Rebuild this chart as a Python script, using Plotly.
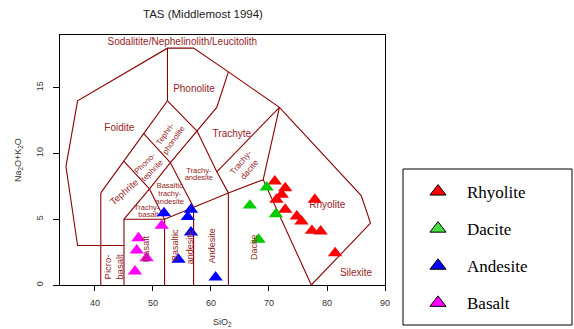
import plotly.graph_objects as go

# ---------------- data ----------------
rhyolite_sio2 = [71.0, 72.8, 72.2, 71.3, 72.8, 74.8, 75.6, 77.4, 78.9, 77.9, 81.4]
rhyolite_alk = [7.88, 7.37, 6.87, 6.49, 5.73, 5.22, 4.84, 4.13, 4.08, 6.49, 2.43]

dacite_sio2 = [69.6, 66.7, 71.2, 68.2]
dacite_alk = [7.42, 6.05, 5.39, 3.45]

andesite_sio2 = [51.9, 56.55, 56.0, 56.55, 54.4, 60.8]
andesite_alk = [5.47, 5.73, 5.17, 4.0, 1.93, 0.58]

basalt_sio2 = [51.5, 47.5, 47.2, 48.9, 46.9]
basalt_alk = [4.51, 3.57, 2.64, 2.05, 1.04]

series_names = ["Rhyolite", "Dacite", "Andesite", "Basalt"]
series_colors = ["#FF0000", "#00CC00", "#0000FF", "#FF00FF"]
legend_colors = ["#FF0000", "#44DD44", "#0000FF", "#FF00FF"]

x_ticks = [40, 50, 60, 70, 80, 90]
y_ticks = [0, 5, 10, 15]

# TAS (Middlemost 1994) field boundaries (SiO2, Na2O+K2O)
boundaries = [
    [(45, 3), (37, 3), (35, 9), (37, 14), (52.5, 18), (57, 18), (63, 16.2),
     (71.8, 13.5), (85.9, 6.8), (87.5, 4.7), (77.3, 0)],
    [(41, 0), (41, 7)],
    [(41, 7), (45, 9.4), (48.4, 11.5), (52.5, 14)],
    [(52.5, 14), (52.5, 18)],
    [(52.5, 14), (57.6, 11.7)],
    [(53, 9.3), (57.6, 11.7), (61, 13.5), (63, 16.2)],
    [(48.4, 11.5), (53, 9.3)],
    [(45, 9.4), (49.4, 7.3)],
    [(45, 5), (49.4, 7.3), (53, 9.3)],
    [(49.4, 7.3), (52, 5)],
    [(53, 9.3), (57, 5.9)],
    [(57.6, 11.7), (61, 8.6), (63, 7)],
    [(61, 8.6), (71.8, 13.5)],
    [(71.8, 13.5), (69, 8), (77.3, 0)],
    [(63, 7), (69, 8)],
    [(45, 0), (45, 5), (52, 5), (57, 5.9), (63, 7)],
    [(52, 0), (52, 5)],
    [(57, 0), (57, 5.9)],
    [(63, 0), (63, 7)],
]

# horizontal field labels (text, SiO2, alkali, size)
flat_labels = [
    ("Sodalitite/Nephelinolith/Leucitolith", 55.06, 18.44, 10),
    ("Foidite", 44.2, 11.9, 10),
    ("Phonolite", 57.07, 14.87, 10),
    ("Trachyte", 63.6, 11.47, 10),
    ("Rhyolite", 80.05, 6.03, 10),
    ("Silexite", 85.0, 0.89, 10),
    ("Trachy-", 57.9, 8.69, 7.5),
    ("andesite", 57.9, 8.1, 7.5),
    ("Basaltic", 52.9, 7.55, 7.5),
    ("trachy-", 52.9, 6.91, 7.5),
    ("andesite", 52.9, 6.33, 7.5),
    ("Trachy-", 48.9, 5.87, 7.5),
    ("basalt", 49.2, 5.32, 7.5),
]

# rotated field labels (text, SiO2, alkali, angle, size)
rot_labels = [
    ("Tephrite", 45.05, 7.09, -41, 9.5),
    ("Phono-<br>tephrite", 49.3, 9.0, -45, 8),
    ("Tephri-<br>phonolite", 52.9, 11.27, -55, 8),
    ("Trachy-<br>dacite", 65.86, 9.12, -50, 8.5),
    ("Picro-", 42.19, 1.39, -90, 9.5),
    ("basalt", 44.31, 1.39, -90, 9.5),
    ("Basalt", 48.62, 2.79, -90, 9.5),
    ("Basaltic", 53.79, 3.04, -90, 9),
    ("andesite", 56.38, 2.86, -90, 9),
    ("Andesite", 60.1, 2.99, -90, 9),
    ("Dacite", 67.3, 2.91, -90, 9),
]

# ---------------- layout geometry ----------------
W, H = 574, 329
ML, MR, MT, MB = 60, 189, 35, 44
PW = W - ML - MR
PH = H - MT - MB


def pxx(px):
    return (px - ML) / PW


def pxy(py):
    return (H - MB - py) / PH


LINE_COL = "#8B0000"
TEXT_COL = "#962424"
SANS = "Liberation Sans, Arial, sans-serif"

fig = go.Figure()

bx, by = [], []
for poly in boundaries:
    for (sx, sy) in poly:
        bx.append(sx)
        by.append(sy)
    bx.append(None)
    by.append(None)
fig.add_trace(go.Scatter(x=bx, y=by, mode="lines",
                         line=dict(color=LINE_COL, width=1.1),
                         showlegend=False, hoverinfo="skip"))

fig.add_trace(go.Scatter(
    x=[l[1] for l in flat_labels], y=[l[2] for l in flat_labels],
    text=[l[0] for l in flat_labels], mode="text",
    textfont=dict(family=SANS, color=TEXT_COL, size=[l[3] for l in flat_labels]),
    textposition="middle center", showlegend=False, hoverinfo="skip",
    cliponaxis=False))

for name, sx, sy, col in [
    ("Rhyolite", rhyolite_sio2, rhyolite_alk, series_colors[0]),
    ("Dacite", dacite_sio2, dacite_alk, series_colors[1]),
    ("Andesite", andesite_sio2, andesite_alk, series_colors[2]),
    ("Basalt", basalt_sio2, basalt_alk, series_colors[3]),
]:
    fig.add_trace(go.Scatter(x=sx, y=sy, mode="markers", name=name,
                             marker=dict(symbol="triangle-up", size=12.5, color=col,
                                         line=dict(width=0)),
                             showlegend=False))

# legend entries (black outlined symbols as in the reference legend)
for i, (name, col) in enumerate(zip(series_names, legend_colors)):
    fig.add_trace(go.Scatter(x=[None], y=[None], mode="markers", name=name,
                             legendgroup=name,
                             marker=dict(symbol="triangle-up", size=14, color=col,
                                         line=dict(color="black", width=1)),
                             showlegend=True))

annotations = []
for text, sx, sy, ang, size in rot_labels:
    annotations.append(dict(text=text, x=sx, y=sy, xref="x", yref="y",
                            showarrow=False, textangle=ang,
                            font=dict(family=SANS, color=TEXT_COL, size=size)))

annotations.append(dict(text="TAS (Middlemost 1994)", x=pxx(202.5), y=pxy(14),
                        xref="paper", yref="paper", showarrow=False,
                        xanchor="center", yanchor="middle",
                        font=dict(family=SANS, color="#222222", size=11.5)))
annotations.append(dict(text="SiO<sub>2</sub>", x=pxx(222.5), y=pxy(322),
                        xref="paper", yref="paper", showarrow=False,
                        xanchor="center", yanchor="middle",
                        font=dict(family=SANS, color="#333333", size=9)))
annotations.append(dict(text="Na<sub>2</sub>O+K<sub>2</sub>O", x=pxx(18), y=pxy(160),
                        xref="paper", yref="paper", showarrow=False,
                        xanchor="center", yanchor="middle", textangle=-90,
                        font=dict(family=SANS, color="#333333", size=9)))

shapes = [dict(type="rect", xref="paper", yref="paper",
               x0=pxx(403), x1=pxx(572), y0=pxy(325), y1=pxy(169),
               line=dict(color="black", width=1), fillcolor="rgba(0,0,0,0)")]

fig.update_layout(
    width=W, height=H,
    margin=dict(l=ML, r=MR, t=MT, b=MB, autoexpand=False),
    paper_bgcolor="white", plot_bgcolor="white",
    annotations=annotations, shapes=shapes,
    xaxis=dict(range=[33.97, 90], tickvals=x_ticks, showgrid=False, zeroline=False,
               showline=True, mirror=True, linecolor="black", linewidth=1,
               ticks="outside", ticklen=5, tickcolor="black",
               tickfont=dict(family=SANS, size=9, color="#333333"),
               ticklabelstandoff=4),
    yaxis=dict(range=[0, 19], tickvals=y_ticks, showgrid=False, zeroline=False,
               showline=True, mirror=True, linecolor="black", linewidth=1,
               ticks="outside", ticklen=6, tickcolor="black", tickangle=-90,
               tickfont=dict(family=SANS, size=9, color="#333333"),
               ticklabelstandoff=6),
    legend=dict(x=pxx(409), y=pxy(174), xanchor="left", yanchor="top",
                bgcolor="rgba(0,0,0,0)", borderwidth=0,
                font=dict(family="Liberation Serif, Times New Roman, serif",
                          size=17, color="black"),
                itemwidth=48, tracegroupgap=12, traceorder="grouped"),
    showlegend=True,
)

fig.write_html("out.html", config={"displayModeBar": False},
               post_script="document.body.style.margin='0';document.body.style.padding='0';")
